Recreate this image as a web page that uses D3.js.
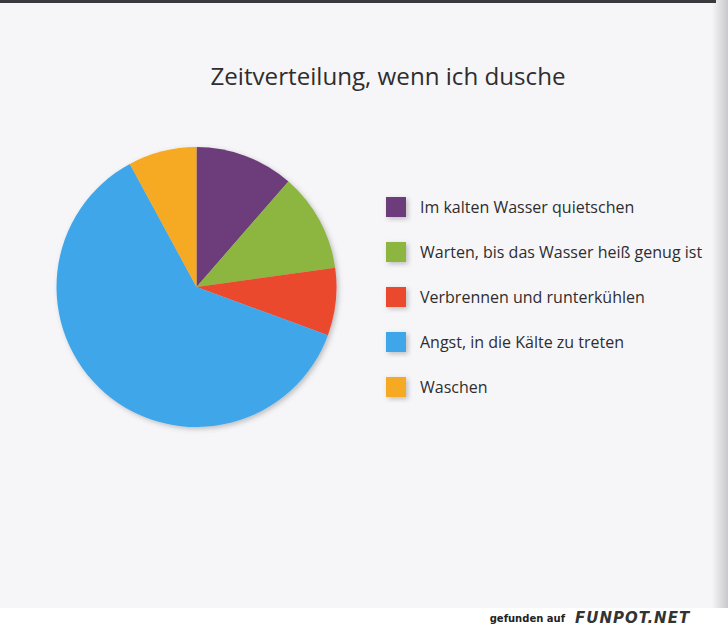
<!DOCTYPE html>
<html><head><meta charset="utf-8">
<script src="https://cdn.jsdelivr.net/npm/d3@7"></script>
<style>html,body{margin:0;padding:0;background:#fff;}svg{display:block;}</style>
</head><body>
<svg id="c" width="728" height="629"></svg>
<script>
const categories = ["Im kalten Wasser quietschen","Warten, bis das Wasser heiß genug ist","Verbrennen und runterkühlen","Angst, in die Kälte zu treten","Waschen"];
const values = [11.4, 11.4, 7.8, 61.5, 7.9];
const colors = ["#6c3d7a","#8cb63f","#eb4a2e","#40a6ea","#f6a923"];
const title = "Zeitverteilung, wenn ich dusche";

const svg = d3.select("#c");
const defs = svg.append("defs");
const sh = defs.append("filter").attr("id","sh").attr("x","-20%").attr("y","-20%").attr("width","150%").attr("height","150%");
sh.append("feDropShadow").attr("dx",2).attr("dy",2).attr("stdDeviation",2.5).attr("flood-color","#555").attr("flood-opacity",0.35);
const g1 = defs.append("linearGradient").attr("id","rs").attr("x1",0).attr("x2",1);
g1.append("stop").attr("offset","0").attr("stop-color","#f6f6f8");
g1.append("stop").attr("offset","1").attr("stop-color","#c8c8cc");

// page background
svg.append("rect").attr("x",0).attr("y",0).attr("width",728).attr("height",608).attr("fill","#f6f6f8");
svg.append("rect").attr("x",712).attr("y",0).attr("width",16).attr("height",608).attr("fill","url(#rs)");
svg.append("rect").attr("x",0).attr("y",0).attr("width",716).attr("height",3).attr("fill","#3a3a3e");
svg.append("rect").attr("x",0).attr("y",608).attr("width",728).attr("height",21).attr("fill","#ffffff");

// title
svg.append("text").attr("x",388).attr("y",85).attr("text-anchor","middle")
  .attr("font-family","Open Sans, sans-serif").attr("font-size",24).attr("fill","#2f2d2f")
  .attr("textLength",355).attr("lengthAdjust","spacingAndGlyphs").text(title);

// pie
const cx = 196.5, cy = 287, r = 140;
const pie = d3.pie().sort(null).value(d=>d)(values);
const arc = d3.arc().innerRadius(0).outerRadius(r);
const pg = svg.append("g").attr("transform",`translate(${cx},${cy})`).attr("filter","url(#sh)");
pg.selectAll("path").data(pie).join("path").attr("d",arc).attr("fill",(d,i)=>colors[i]);

// legend
const lg = svg.append("g");
const rows = lg.selectAll("g").data(categories).join("g")
  .attr("transform",(d,i)=>`translate(386,${197 + i*45})`);
rows.append("rect").attr("width",20).attr("height",20).attr("fill",(d,i)=>colors[i]).attr("filter","url(#sh)");
rows.append("text").attr("x",34).attr("y",15.5)
  .attr("font-family","Open Sans, sans-serif").attr("font-size",16).attr("fill","#2f2d2f")
  .text(d=>d);

// footer
svg.append("text").attr("x",565).attr("y",622).attr("text-anchor","end")
  .attr("font-family","DejaVu Sans, sans-serif").attr("font-size",10).attr("font-weight","bold").attr("fill","#222").text("gefunden auf");
svg.append("text").attr("x",575).attr("y",623)
  .attr("font-family","DejaVu Sans, sans-serif").attr("font-size",15).attr("font-weight","bold").attr("font-style","italic").attr("fill","#333").attr("letter-spacing",1).text("FUNPOT.NET");
</script>
</body></html>
